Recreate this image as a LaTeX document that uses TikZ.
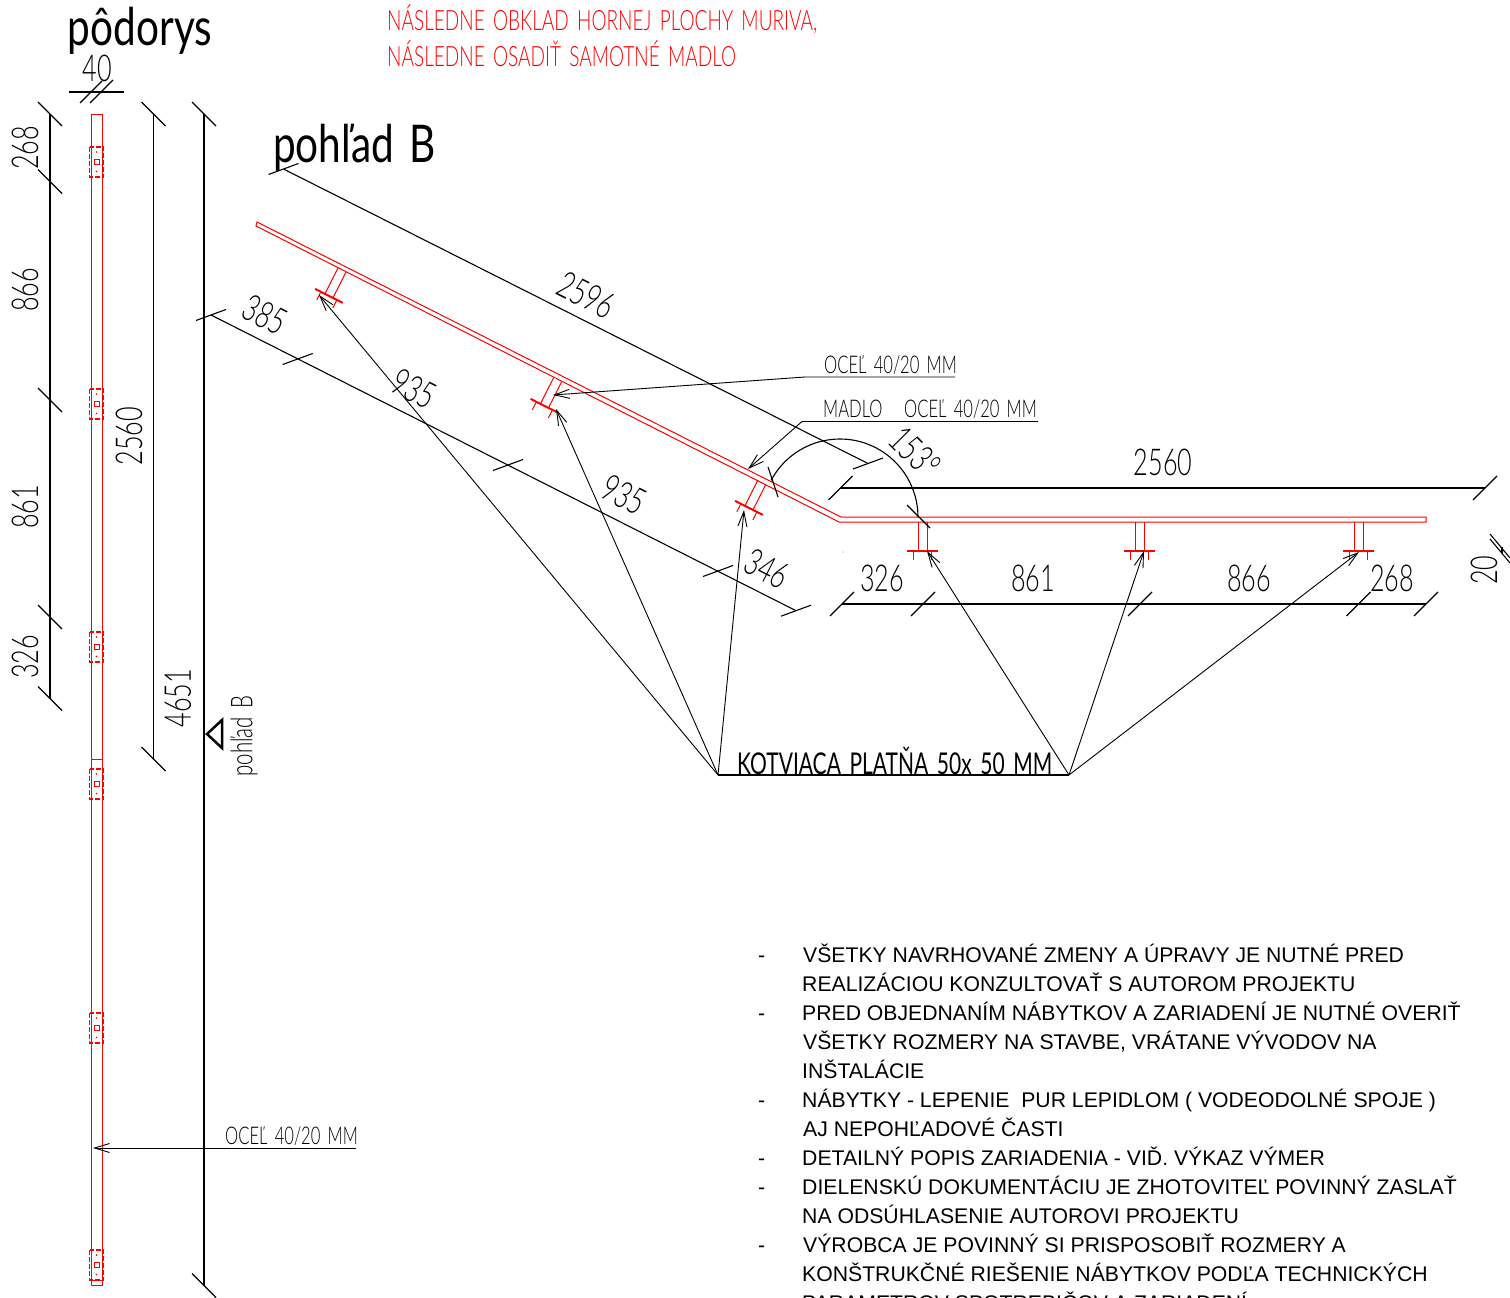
\documentclass[tikz,border=0pt]{standalone}
\usepackage{fontspec}
\usetikzlibrary{arrows.meta}
\setmainfont{Liberation Sans}
\newfontfamily\cadfont[FakeStretch=0.68,WordSpace=1.6]{Lato Light}
\newfontfamily\cadmid[FakeStretch=0.7,WordSpace=1.6]{Lato}
\newfontfamily\cadbold[FakeStretch=0.78,WordSpace=1.5]{Lato}

\newcommand{\downtick}[1]{\draw[dim line] ([shift={(-12,-12)}]#1) -- ([shift={(12,12)}]#1);}
\newcommand{\uptick}[1]{\draw[dim line] ([shift={(-12,12)}]#1) -- ([shift={(12,-12)}]#1);}
\newcommand{\slanttick}[1]{\draw[dim line] ([shift={(-15,5.5)}]#1) -- ([shift={(15,-5.5)}]#1);}

\tikzset{
  bracket/.pic={
    \draw[red line] (-4.5,0) -- (-4.5,29) (4.5,0) -- (4.5,29);
    \draw[red line,line width=2pt] (-15.5,29) -- (15.5,29);
    \draw[red line] (-9,29) -- (-9,38) (9,29) -- (9,38);
  },
  plate mark/.pic={
    \draw[red line,dash pattern=on 5pt off 2pt,line width=1.3pt] (-7,-15) rectangle (7,15);
    \draw[red line] (-2.5,-2.5) rectangle (2.5,2.5);
    \fill[red] (0,-10) circle (0.9pt) (0,9.5) circle (0.9pt);
  }
}

\begin{document}
\begin{tikzpicture}[x=1pt,y=-1pt,>={Straight Barb[length=15pt,width=9pt]},
  red line/.style={draw=red,line width=1pt},
  plan line/.style={draw=red,line width=0.8pt},
  dim line/.style={draw=black,line width=1.1pt},
  leader/.style={draw=black,line width=0.9pt},
  dim text/.style={inner sep=0pt,font=\cadfont\fontsize{37}{37}\selectfont},
  red text/.style={inner sep=0pt,anchor=west,text=red,font=\cadfont\fontsize{28}{28}\selectfont},
  small text/.style={inner sep=0pt,anchor=west,font=\cadfont\fontsize{24.4}{25}\selectfont},
  title text/.style={inner sep=0pt,font=\cadbold\fontsize{52}{52}\selectfont},
  note/.style={inner sep=0pt,anchor=base west,font=\fontsize{21.2}{22}\selectfont}]

  \clip (0,0) rectangle (1510,1298);

  % plan view
  \draw[plan line] (91,114) rectangle (102,1285);
  \draw[plan line] (91,759) -- (102,759);
  \draw[plan line] (91,1280) -- (102,1280);
  \pic at (96.5,162) {plate mark};
  \pic at (96.5,404) {plate mark};
  \pic at (96.5,647) {plate mark};
  \pic at (96.5,784) {plate mark};
  \pic at (96.5,1028) {plate mark};
  \pic at (96.5,1265) {plate mark};

  \coordinate (a1) at (50,114);
  \coordinate (a2) at (50,181.5);
  \coordinate (a3) at (50,400);
  \coordinate (a4) at (50,617);
  \coordinate (a5) at (50,698.5);
  \coordinate (b1) at (153.5,114);
  \coordinate (b2) at (153.5,759);
  \coordinate (c1) at (204,114);
  \coordinate (c2) at (204,1285.5);
  \coordinate (w1) at (69,92);
  \coordinate (w2) at (124,92);
  \draw[dim line] (a1) -- (a5);
  \draw[dim line] (b1) -- (b2);
  \draw[dim line] (c1) -- (c2);
  \draw[dim line] (w1) -- (w2);
  \downtick{a1} \downtick{a2} \downtick{a3} \downtick{a4} \downtick{a5}
  \downtick{b1} \downtick{b2}
  \downtick{c1} \downtick{c2}
  \draw[dim line] (80,103) -- (102,81);
  \draw[dim line] (90,103) -- (113,80);

  \node[title text] (podorys) at (140,31) {pôdorys};
  \node[dim text] (t40) at (97,68) {40};
  \node[dim text,rotate=90] (t268) at (25,148) {268};
  \node[dim text,rotate=90] (t866) at (25,290) {866};
  \node[dim text,rotate=90] (t861) at (25,507) {861};
  \node[dim text,rotate=90] (t326) at (25,657) {326};
  \node[dim text,rotate=90] (t2560a) at (129,436) {2560};
  \node[dim text,rotate=90] (t4651) at (178,698) {4651};
  \node[small text,rotate=90,anchor=center,font=\cadfont\fontsize{30}{30}\selectfont] (viewb) at (244,736) {pohľad B};
  \draw[line width=2.5pt,line join=miter] (207,734) -- (222,720) -- (222,748) -- cycle;

  \coordinate (s1) at (356,1148);
  \coordinate (s2) at (93,1148);
  \draw[leader,->] (s1) -- (s2);
  \node[small text] (steel1) at (225,1136) {OCEĽ 40/20 MM};

  \node[red text] (redone) at (387,19) {NÁSLEDNE OBKLAD HORNEJ PLOCHY MURIVA,};
  \node[red text] (redtwo) at (387,54) {NÁSLEDNE OSADIŤ SAMOTNÉ MADLO};

  % view B
  \node[title text,anchor=west] (viewtitle) at (273,148) {pohľad B};
  \draw[red line] (257,222) -- (841,517) -- (1426,517) -- (1426,522) -- (839,522) -- (256,226) -- cycle;
  \pic[rotate=-26.8] at (342,270) {bracket};
  \pic[rotate=-26.8] at (557.5,380) {bracket};
  \pic[rotate=-26.8] at (762,482) {bracket};
  \pic at (922.5,522) {bracket};
  \pic at (1139.5,522) {bracket};
  \pic at (1358.5,522) {bracket};

  % dimensions
  \coordinate (d1) at (283.5,169);
  \coordinate (d2) at (868,463.5);
  \coordinate (e1) at (211,315);
  \coordinate (e2) at (297.7,359);
  \coordinate (e3) at (508,465);
  \coordinate (e4) at (718,571);
  \coordinate (e5) at (796,610.7);
  \coordinate (f1) at (840.5,488);
  \coordinate (f2) at (1485,488);
  \coordinate (g1) at (842,604);
  \coordinate (g2) at (923,604);
  \coordinate (g3) at (1140,604);
  \coordinate (g4) at (1358.5,604);
  \coordinate (g5) at (1426,604);
  \coordinate (h1) at (1502,547);
  \coordinate (h2) at (1502,553);
  \draw[dim line] (d1) -- (d2);
  \draw[dim line] (e1) -- (e5);
  \draw[dim line] (f1) -- (f2);
  \draw[dim line] (g1) -- (g5);
  \draw[dim line] (h1) -- (h2);
  \slanttick{d1} \slanttick{d2}
  \slanttick{e1} \slanttick{e2} \slanttick{e3} \slanttick{e4} \slanttick{e5}
  \uptick{f1} \uptick{f2}
  \uptick{g1} \uptick{g2} \uptick{g3} \uptick{g4} \uptick{g5}

  \coordinate (arcstart) at (771.1,480.4);
  \draw[dim line] (arcstart) arc[start angle=152,end angle=0,radius=78pt];
  \draw[dim line] (768,467) -- (778,497);
  \draw[dim line] (907,505) -- (930,528);

  \draw[dim line] (1490,534) -- (1510,558);
  \draw[dim line] (1490,539) -- (1510,563);

  \node[dim text,rotate=-27] (t2596) at (586,295) {2596};
  \node[dim text,rotate=-27] (t385) at (265,315) {385};
  \node[dim text,rotate=-27] (t935a) at (414,389) {935};
  \node[dim text,rotate=-27] (t935b) at (624,495) {935};
  \node[dim text,rotate=-27] (t346) at (767,569) {346};
  \node[dim text,rotate=-45] (t153) at (915,452) {153°};
  \node[dim text] (t2560b) at (1163,462) {2560};
  \node[dim text] (u326) at (882,578) {326};
  \node[dim text] (u861) at (1033,578) {861};
  \node[dim text] (u866) at (1249,578) {866};
  \node[dim text] (u268) at (1392,578) {268};
  \node[dim text,rotate=90] (t20) at (1484,570) {20};

  % leaders
  \coordinate (l1) at (955,377);
  \coordinate (l2) at (805,377);
  \coordinate (l3) at (553,395);
  \coordinate (m1) at (1038,421.5);
  \coordinate (m2) at (802,421.5);
  \coordinate (m3) at (748,469);
  \draw[leader,->] (l1) -- (l2) -- (l3);
  \draw[leader,->] (m1) -- (m2) -- (m3);
  \node[small text] (steel2) at (824,365) {OCEĽ 40/20 MM};
  \node[small text] (madlo) at (823,409) {MADLO\ \ \ OCEĽ 40/20 MM};

  \coordinate (k1) at (718,775);
  \coordinate (k2) at (1069,775);
  \coordinate (p1) at (319,295);
  \coordinate (p2) at (556,409);
  \coordinate (p3) at (744,510);
  \coordinate (p4) at (927,551);
  \coordinate (p5) at (1144,551);
  \coordinate (p6) at (1359,552);
  \draw[line width=1.6pt] (k1) -- (k2);
  \draw[leader,->] (k1) -- (p1);
  \draw[leader,->] (k1) -- (p2);
  \draw[leader,->] (k1) -- (p3);
  \draw[leader,->] (k2) -- (p4);
  \draw[leader,->] (k2) -- (p5);
  \draw[leader,->] (k2) -- (p6);
  \node[small text,font=\cadmid\fontsize{30}{30}\selectfont] (plate) at (737,760.5) {KOTVIACA PLATŇA 50x 50 MM};

  \fill[blue!60!gray] (843,552) circle (0.5pt);

  % notes
  \node[note] (n1a) at (758,962) {-};
  \node[note] (n1) at (803,962) {VŠETKY NAVRHOVANÉ ZMENY A ÚPRAVY JE NUTNÉ PRED};
  \node[note] (n2) at (802,991) {REALIZÁCIOU KONZULTOVAŤ S AUTOROM PROJEKTU};
  \node[note] (n3a) at (758,1020) {-};
  \node[note] (n3) at (802,1020) {PRED OBJEDNANÍM NÁBYTKOV A ZARIADENÍ JE NUTNÉ OVERIŤ};
  \node[note] (n4) at (803,1049) {VŠETKY ROZMERY NA STAVBE, VRÁTANE VÝVODOV NA};
  \node[note] (n5) at (802,1078) {INŠTALÁCIE};
  \node[note] (n6a) at (758,1107) {-};
  \node[note] (n6) at (802,1107) {NÁBYTKY - LEPENIE\ \ PUR LEPIDLOM ( VODEODOLNÉ SPOJE )};
  \node[note] (n7) at (803,1136) {AJ NEPOHĽADOVÉ ČASTI};
  \node[note] (n8a) at (758,1165) {-};
  \node[note] (n8) at (802,1165) {DETAILNÝ POPIS ZARIADENIA - VIĎ. VÝKAZ VÝMER};
  \node[note] (n9a) at (758,1194) {-};
  \node[note] (n9) at (802,1194) {DIELENSKÚ DOKUMENTÁCIU JE ZHOTOVITEĽ POVINNÝ ZASLAŤ};
  \node[note] (n10) at (802,1223) {NA ODSÚHLASENIE AUTOROVI PROJEKTU};
  \node[note] (n11a) at (758,1252) {-};
  \node[note] (n11) at (803,1252) {VÝROBCA JE POVINNÝ SI PRISPOSOBIŤ ROZMERY A};
  \node[note] (n12) at (802,1281) {KONŠTRUKČNÉ RIEŠENIE NÁBYTKOV PODĽA TECHNICKÝCH};
  \node[note] (n13) at (802,1310) {PARAMETROV SPOTREBIČOV A ZARIADENÍ};
\end{tikzpicture}
\end{document}
